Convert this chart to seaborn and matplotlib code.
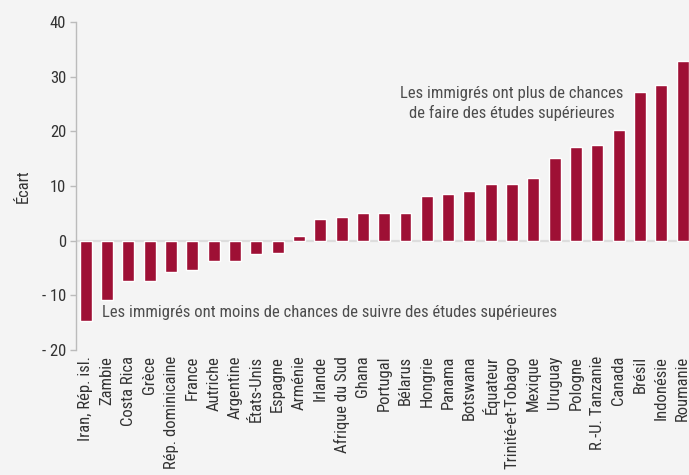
import matplotlib
matplotlib.use('Agg')
import matplotlib.pyplot as plt
from matplotlib import font_manager
import seaborn as sns
import pandas as pd

countries = ['Iran, Rép. isl.', 'Zambie', 'Costa Rica', 'Grèce', 'Rép. dominicaine',
             'France', 'Autriche', 'Argentine', 'États-Unis', 'Espagne', 'Arménie',
             'Irlande', 'Afrique du Sud', 'Ghana', 'Portugal', 'Bélarus', 'Hongrie',
             'Panama', 'Botswana', 'Équateur', 'Trinité-et-Tobago', 'Mexique',
             'Uruguay', 'Pologne', 'R.-U. Tanzanie', 'Canada', 'Brésil', 'Indonésie',
             'Roumanie']
ecart = [-14.6, -10.8, -7.3, -7.3, -5.7, -5.3, -3.7, -3.7, -2.4, -2.2, 0.9,
         4.0, 4.4, 5.1, 5.1, 5.1, 8.1, 8.6, 9.0, 10.4, 10.4, 11.5,
         15.2, 17.2, 17.4, 20.3, 27.1, 28.5, 32.9]
yticks = [-20, -10, 0, 10, 20, 30, 40]
ytick_labels = ['- 20', '- 10', '0', '10', '20', '30', '40']

df = pd.DataFrame({'pays': countries, 'ecart': ecart})

bg = '#f4f4f4'
sns.set_style('white', {'axes.facecolor': bg, 'figure.facecolor': bg})

# condensed face if one is there, else Roboto
installed = {f.name for f in font_manager.fontManager.ttflist}
family = 'Roboto'
for name in ['Liberation Sans Narrow', 'Roboto Condensed', 'Open Sans Condensed']:
    if name in installed:
        family = name
        break
plt.rcParams['font.family'] = [family, 'DejaVu Sans']
narrow = family != 'Roboto'
fs_x = 12 if narrow else 10.5
fs_y = 12
fs_note = 12 if narrow else 10

fig = plt.figure(figsize=(6.89, 4.75), dpi=100)
ax = fig.add_axes([0.110, 0.263, 0.890, 0.691])

ax.axhline(0, color='#dddddd', lw=1.6, zorder=0)
sns.barplot(data=df, x='pays', y='ecart', color='#9e1035', width=0.56,
            saturation=1, ax=ax, zorder=2)

ax.set_ylim(-20, 40)
ax.set_xlim(-0.47, 28.3)
ax.set_yticks(yticks)
ax.set_yticklabels(ytick_labels)
ax.set_xlabel('')
ax.set_ylabel('Écart', fontsize=fs_x, color='#333333', labelpad=8)

ax.tick_params(axis='y', direction='out', length=4, width=1, color='#bbbbbb',
               labelsize=fs_y, labelcolor='#333333', left=True, pad=3)
ax.tick_params(axis='x', length=0, labelsize=fs_x, labelcolor='#333333',
               rotation=90, pad=4)

for s in ['top', 'right', 'bottom']:
    ax.spines[s].set_visible(False)
ax.spines['left'].set_color('#bbbbbb')
ax.spines['left'].set_linewidth(1)

ax.text(20.0, 25.0, 'Les immigrés ont plus de chances\nde faire des études supérieures',
        ha='center', va='center', fontsize=fs_note, color='#4d4d4d', linespacing=1.3)
ax.text(0.75, -13.2, 'Les immigrés ont moins de chances de suivre des études supérieures',
        ha='left', va='center', fontsize=fs_note, color='#4d4d4d')

fig.savefig('out.png', dpi=100, facecolor=bg)
